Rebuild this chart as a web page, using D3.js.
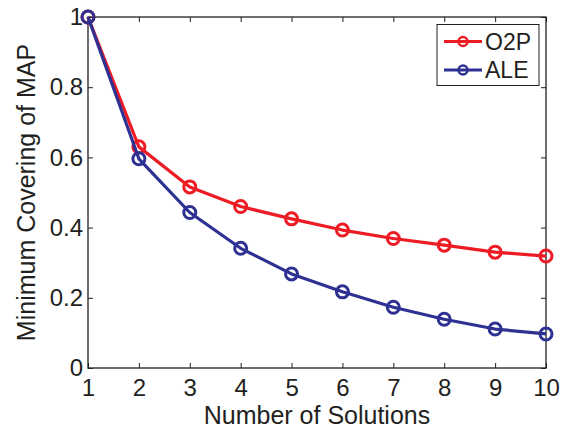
<!DOCTYPE html>
<html><head><meta charset="utf-8">
<script src="https://cdn.jsdelivr.net/npm/d3@7"></script>
<style>
html,body{margin:0;padding:0;background:#fff;}
text{font-family:"Liberation Sans",Arial,Helvetica,sans-serif;fill:#231f20;}
</style></head>
<body>
<svg id="chart" width="563" height="429"></svg>
<script>
const solutions = [1,2,3,4,5,6,7,8,9,10];
const o2p = [1.0,0.63,0.516,0.46,0.425,0.393,0.369,0.350,0.330,0.319];
const ale = [1.0,0.596,0.443,0.341,0.268,0.217,0.173,0.139,0.111,0.097];
const seriesNames = ["O2P","ALE"];
const seriesColors = ["#ed1c24","#2e3192"];
const xTicks = [1,2,3,4,5,6,7,8,9,10];
const yTicks = [0,0.2,0.4,0.6,0.8,1];
const xLabel = "Number of Solutions";
const yLabel = "Minimum Covering of MAP";

const svg = d3.select("#chart");
const L=88, R=546, T=17, B=368;
const x = d3.scaleLinear().domain([1,10]).range([L,R]);
const y = d3.scaleLinear().domain([0,1]).range([B,T]);
const axisColor="#231f20";

svg.append("rect").attr("x",L).attr("y",T).attr("width",R-L).attr("height",B-T)
  .attr("fill","none").attr("stroke",axisColor).attr("stroke-width",1.3);

const tickFont=24, labelFont=25, legendFont=23;
const xa = svg.append("g").attr("transform",`translate(0,${B})`)
  .call(d3.axisBottom(x).tickValues(xTicks).tickSize(-5).tickPadding(11).tickFormat(d3.format("d")));
const xt = svg.append("g").attr("transform",`translate(0,${T})`)
  .call(d3.axisTop(x).tickValues(xTicks).tickSize(-5).tickFormat(""));
const ya = svg.append("g").attr("transform",`translate(${L},0)`)
  .call(d3.axisLeft(y).tickValues(yTicks).tickSize(-5).tickPadding(5).tickFormat(d=>d===0||d===1?d3.format("d")(d):d3.format(".1f")(d)));
const yr = svg.append("g").attr("transform",`translate(${R},0)`)
  .call(d3.axisRight(y).tickValues(yTicks).tickSize(-5).tickFormat(""));
[xa,xt,ya,yr].forEach(g=>{
  g.select(".domain").remove();
  g.selectAll("line").attr("stroke",axisColor).attr("stroke-width",1);
  g.selectAll("text").attr("font-size",tickFont).attr("font-family","'Liberation Sans',Arial,sans-serif").attr("fill",axisColor);
});
xa.selectAll("text").attr("dy","0.71em");

svg.append("text").attr("x",(L+R)/2).attr("y",424).attr("text-anchor","middle")
  .attr("font-size",labelFont).text(xLabel);
svg.append("text").attr("transform",`translate(35,${(T+B)/2}) rotate(-90)`).attr("text-anchor","middle")
  .attr("font-size",labelFont).text(yLabel);

const data=[o2p,ale];
const line=d3.line().x((d,i)=>x(solutions[i])).y(d=>y(d));
data.forEach((vals,k)=>{
  const g=svg.append("g");
  g.append("path").datum(vals).attr("d",line).attr("fill","none")
    .attr("stroke",seriesColors[k]).attr("stroke-width",3.2).attr("stroke-linejoin","round");
  g.selectAll("circle").data(vals).join("circle")
    .attr("cx",(d,i)=>x(solutions[i])).attr("cy",d=>y(d)).attr("r",6)
    .attr("fill","none").attr("stroke",seriesColors[k]).attr("stroke-width",3);
});

const lg=svg.append("g");
lg.append("rect").attr("x",437).attr("y",24.5).attr("width",102).attr("height",61)
  .attr("fill","#fff").attr("stroke",axisColor).attr("stroke-width",1);
seriesNames.forEach((n,k)=>{
  const cy=41.5+k*28.5;
  lg.append("line").attr("x1",444).attr("x2",482).attr("y1",cy).attr("y2",cy)
    .attr("stroke",seriesColors[k]).attr("stroke-width",3.2);
  lg.append("circle").attr("cx",463).attr("cy",cy).attr("r",4.5)
    .attr("fill","none").attr("stroke",seriesColors[k]).attr("stroke-width",2.5);
  lg.append("text").attr("x",485).attr("y",cy).attr("dy","0.36em").attr("font-size",legendFont).text(n);
});
</script>
</body></html>
